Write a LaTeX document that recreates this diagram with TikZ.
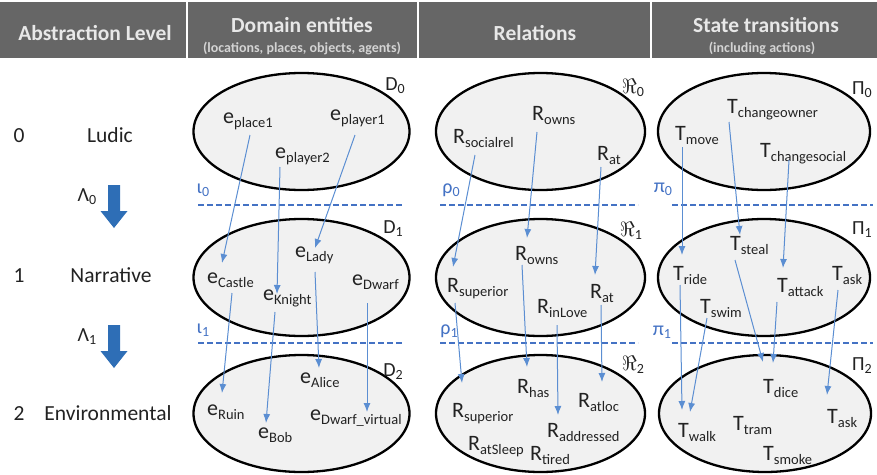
\documentclass[tikz,border=0pt]{standalone}
\usepackage{fontspec}
\setmainfont{Carlito}
\usepackage{xcolor}
\usetikzlibrary{shapes.geometric,arrows.meta,positioning}

\definecolor{hdrbg}{HTML}{666666}
\definecolor{hdrtxt}{HTML}{E8E8E8}
\definecolor{entcol}{HTML}{222222}
\definecolor{ellfill}{HTML}{F1F1F1}
\definecolor{arrcol}{RGB}{91,142,210}
\definecolor{dashcol}{RGB}{68,114,196}
\definecolor{lamcol}{RGB}{46,110,182}

% entity / relation / transition with subscript
\newcommand{\ent}[2]{{\fontsize{22}{22}\selectfont #1}\raisebox{-4pt}{\fontsize{14.5}{14.5}\selectfont #2}}
% set and mapping labels
\newcommand{\lab}[2]{{\fontsize{20}{20}\selectfont #1}\raisebox{-3pt}{\fontsize{14}{14}\selectfont #2}}

\begin{document}
\begin{tikzpicture}[x=1pt, y=-1pt,
    set/.style={ellipse, draw=black, line width=2.3pt, fill=ellfill, minimum width=216pt, minimum height=117pt, inner sep=0pt},
    ent/.style={anchor=base west, inner sep=0pt, text=entcol},
    flow/.style={-{Latex[length=9pt,width=7pt]}, draw=arrcol, line width=1pt},
    cut/.style={draw=dashcol, line width=2.4pt, dash pattern=on 6pt off 3pt},
    cutlbl/.style={text=dashcol, inner sep=0pt},
    setlbl/.style={text=entcol, inner sep=0pt},
    hdr/.style={anchor=base, text=hdrtxt, font=\bfseries\fontsize{21.5}{21.5}\selectfont},
    hsub/.style={anchor=base, text=hdrtxt!85!hdrbg, font=\bfseries\fontsize{14}{14}\selectfont},
    lvl/.style={anchor=base, text=entcol, font=\fontsize{21.5}{21.5}\selectfont},
    lamarrow/.style={fill=lamcol}]

    \useasboundingbox (0,0) rectangle (877,474);

    % header
    \fill[hdrbg] (0,2) rectangle (877,58);
    \foreach \x in {187,418,651}
        \draw[white, line width=1.5pt] (\x,2) -- (\x,58);
    \node[hdr] (hAbs) at (95,40) {Abstraction Level};
    \node[hdr] (hDom) at (302,32) {Domain entities};
    \node[hsub] (hDomSub) at (302,52) {(locations, places, objects, agents)};
    \node[hdr] (hRel) at (535,40) {Relations};
    \node[hdr] (hSt) at (766,32) {State transitions};
    \node[hsub] (hStSub) at (762,52) {(including actions)};

    % abstraction levels
    \node[lvl] (n0) at (19,142) {0};
    \node[lvl] (ludic) at (110,142) {Ludic};
    \node[lvl] (n1) at (19,282) {1};
    \node[lvl] (narr) at (111,282) {Narrative};
    \node[lvl] (n2) at (19,420) {2};
    \node[lvl] (env) at (108,420) {Environmental};

    \node[setlbl] (lam0) at (87,197) {\lab{Λ}{0}};
    \node[setlbl] (lam1) at (87,337) {\lab{Λ}{1}};
    \fill[lamarrow, shift={(114,185)}] (-6,0) -- (6,0) -- (6,26) -- (13.5,26) -- (0,43) -- (-13.5,26) -- (-6,26) -- cycle;
    \fill[lamarrow, shift={(114,325)}] (-6,0) -- (6,0) -- (6,26) -- (13.5,26) -- (0,43) -- (-13.5,26) -- (-6,26) -- cycle;

    % sets
    \node[set] (D0) at (301.5,131.5) {};
    \node[set] (D1) at (301.5,277.5) {};
    \node[set] (D2) at (301.5,413.5) {};
    \node[set, minimum width=209pt] (R0) at (540.5,131.5) {};
    \node[set, minimum width=209pt] (R1) at (540.5,277.5) {};
    \node[set, minimum width=209pt] (R2) at (540.5,413.5) {};
    \node[set, minimum width=212pt] (P0) at (764,131.5) {};
    \node[set, minimum width=212pt] (P1) at (764,277.5) {};
    \node[set, minimum width=212pt] (P2) at (765,413.5) {};

    \node[setlbl] (lD0) at (395,86) {\lab{D}{0}};
    \node[setlbl] (lD1) at (393,229) {\lab{D}{1}};
    \node[setlbl] (lD2) at (393,372) {\lab{D}{2}};
    \node[setlbl] (lR0) at (633,88) {{\fontsize{20.74}{20.74}\selectfont$\Re$}\raisebox{-3pt}{\fontsize{14}{14}\selectfont 0}};
    \node[setlbl] (lR1) at (631,231) {{\fontsize{20.74}{20.74}\selectfont$\Re$}\raisebox{-3pt}{\fontsize{14}{14}\selectfont 1}};
    \node[setlbl] (lR2) at (633,365) {{\fontsize{20.74}{20.74}\selectfont$\Re$}\raisebox{-3pt}{\fontsize{14}{14}\selectfont 2}};
    \node[setlbl] (lP0) at (862,90) {\lab{Π}{0}};
    \node[setlbl] (lP1) at (862,230) {\lab{Π}{1}};
    \node[setlbl] (lP2) at (862,366) {\lab{Π}{2}};

    % mapping cuts
    \draw[cut] (198,205) -- (402,205);
    \draw[cut] (440,205) -- (638,205);
    \draw[cut] (672,205) -- (873,205);
    \draw[cut] (198,343) -- (402,343);
    \draw[cut] (440,343) -- (638,343);
    \draw[cut] (672,343) -- (873,343);
    \node[cutlbl] (iota0) at (203,190) {\lab{ι}{0}};
    \node[cutlbl] (rho0) at (451,190) {\lab{ρ}{0}};
    \node[cutlbl] (pi0) at (663,189) {\lab{π}{0}};
    \node[cutlbl] (iota1) at (203,330) {\lab{ι}{1}};
    \node[cutlbl] (rho1) at (449,331) {\lab{ρ}{1}};
    \node[cutlbl] (pi1) at (662,332) {\lab{π}{1}};

    % domain entities
    \node[ent] (place1) at (223,123) {\ent{e}{place1}};
    \node[ent] (player1) at (330,120) {\ent{e}{player1}};
    \node[ent] (player2) at (275,158) {\ent{e}{player2}};
    \node[ent] (castle) at (207,283) {\ent{e}{Castle}};
    \node[ent] (knight) at (263,300) {\ent{e}{Knight}};
    \node[ent] (lady) at (295,257) {\ent{e}{Lady}};
    \node[ent] (dwarf) at (352,285) {\ent{e}{Dwarf}};
    \node[ent] (ruin) at (207,415) {\ent{e}{Ruin}};
    \node[ent] (bob) at (258,438) {\ent{e}{Bob}};
    \node[ent] (alice) at (300,383) {\ent{e}{Alice}};
    \node[ent] (dwarfv) at (310,420) {\ent{e}{Dwarf\_virtual}};

    % relations
    \node[ent] (socialrel) at (453,143) {\ent{R}{socialrel}};
    \node[ent] (ownsA) at (532,120) {\ent{R}{owns}};
    \node[ent] (atA) at (597,160) {\ent{R}{at}};
    \node[ent] (superiorB) at (447,292) {\ent{R}{superior}};
    \node[ent] (ownsB) at (515,260) {\ent{R}{owns}};
    \node[ent] (atB) at (590,298) {\ent{R}{at}};
    \node[ent] (inlove) at (537,313) {\ent{R}{inLove}};
    \node[ent] (superiorC) at (452,417) {\ent{R}{superior}};
    \node[ent] (has) at (517,393) {\ent{R}{has}};
    \node[ent] (atloc) at (578,407) {\ent{R}{atloc}};
    \node[ent] (addressed) at (547,437) {\ent{R}{addressed}};
    \node[ent] (atsleep) at (468,450) {\ent{R}{atSleep}};
    \node[ent] (tired) at (530,460) {\ent{R}{tired}};

    % state transitions
    \node[ent] (move) at (675,140) {\ent{T}{move}};
    \node[ent] (changeowner) at (727,113) {\ent{T}{changeowner}};
    \node[ent] (changesocial) at (760,157) {\ent{T}{changesocial}};
    \node[ent] (ride) at (673,280) {\ent{T}{ride}};
    \node[ent] (steal) at (730,250) {\ent{T}{steal}};
    \node[ent] (attack) at (777,292) {\ent{T}{attack}};
    \node[ent] (askB) at (832,280) {\ent{T}{ask}};
    \node[ent] (swim) at (700,313) {\ent{T}{swim}};
    \node[ent] (dice) at (763,393) {\ent{T}{dice}};
    \node[ent] (walk) at (678,437) {\ent{T}{walk}};
    \node[ent] (tram) at (733,430) {\ent{T}{tram}};
    \node[ent] (askC) at (827,423) {\ent{T}{ask}};
    \node[ent] (smoke) at (763,460) {\ent{T}{smoke}};

    % refinement arrows
    \draw[flow] ([shift={(27,12)}]place1.base west) -- ([shift={(15,-20)}]castle.base west);
    \draw[flow] ([shift={(5,9)}]player2.base west) -- ([shift={(14,-6)}]knight.base west);
    \draw[flow] ([shift={(25,15)}]player1.base west) -- ([shift={(20,-9)}]lady.base west);
    \draw[flow] ([shift={(25,10)}]castle.base west) -- ([shift={(15,-22)}]ruin.base west);
    \draw[flow] ([shift={(12,12)}]knight.base west) -- ([shift={(8,-15)}]bob.base west);
    \draw[flow] ([shift={(20,15)}]lady.base west) -- ([shift={(19,-15)}]alice.base west);
    \draw[flow] ([shift={(15,18)}]dwarf.base west) -- ([shift={(57,-8)}]dwarfv.base west);

    \draw[flow] ([shift={(22,12)}]socialrel.base west) -- ([shift={(6,-25)}]superiorB.base west);
    \draw[flow] ([shift={(5,12)}]ownsA.base west) -- ([shift={(12,-22)}]ownsB.base west);
    \draw[flow] ([shift={(4,7)}]atA.base west) -- ([shift={(5,-23)}]atB.base west);
    \draw[flow] ([shift={(8,11)}]superiorB.base west) -- ([shift={(10,-34)}]superiorC.base west);
    \draw[flow] ([shift={(7,5)}]ownsB.base west) -- ([shift={(10,-26)}]has.base west);
    \draw[flow] ([shift={(20,12)}]inlove.base west) -- ([shift={(11,-22)}]addressed.base west);
    \draw[flow] ([shift={(11,7)}]atB.base west) -- ([shift={(24,-25)}]atloc.base west);

    \draw[flow] ([shift={(7,7)}]move.base west) -- ([shift={(9,-25)}]ride.base west);
    \draw[flow] ([shift={(2,9)}]changeowner.base west) -- ([shift={(10,-15)}]steal.base west);
    \draw[flow] ([shift={(29,3)}]changesocial.base west) -- ([shift={(6,-24)}]attack.base west);
    \draw[flow] ([shift={(7,5)}]ride.base west) -- ([shift={(4,-27)}]walk.base west);
    \draw[flow] ([shift={(7,5)}]swim.base west) -- ([shift={(12,-25)}]walk.base west);
    \draw[flow] ([shift={(5,10)}]steal.base west) -- ([shift={(0,-31)}]dice.base west);
    \draw[flow] ([shift={(0,10)}]attack.base west) -- ([shift={(10,-30)}]dice.base west);
    \draw[flow] ([shift={(6,10)}]askB.base west) -- ([shift={(0,-28)}]askC.base west);
\end{tikzpicture}
\end{document}
